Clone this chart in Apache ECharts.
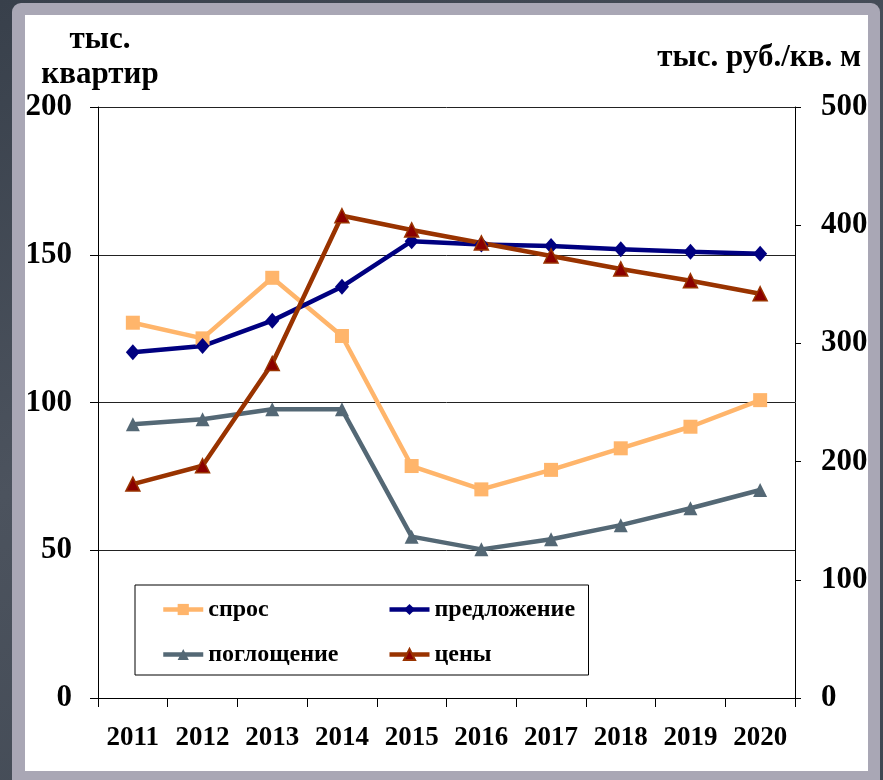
<!DOCTYPE html>
<html>
<head>
<meta charset="utf-8">
<script src="https://cdn.jsdelivr.net/npm/echarts@6/dist/echarts.min.js"></script>
<style>
html,body{margin:0;padding:0;width:883px;height:780px;overflow:hidden;background:linear-gradient(160deg,#38404b 0%,#4c535e 45%,#3f4752 100%);}
#frame{position:absolute;left:12px;top:3px;width:868px;height:790px;background:#a9a7b5;border-radius:9px;}
#inner{position:absolute;left:25px;top:15px;width:843px;height:756px;background:#ffffff;}
#chart{position:absolute;left:0;top:0;width:883px;height:780px;}
</style>
</head>
<body>
<div id="frame"></div>
<div id="inner"></div>
<div id="chart"></div>
<script>
var years = ['2011','2012','2013','2014','2015','2016','2017','2018','2019','2020'];
var demand = [127.0, 121.7, 142.2, 122.5, 78.5, 70.6, 77.2, 84.5, 91.8, 100.8];
var supply = [117.0, 119.1, 127.7, 139.2, 154.6, 153.5, 153.0, 151.9, 151.0, 150.3];
var absorption = [92.6, 94.3, 97.7, 97.7, 54.6, 50.3, 53.7, 58.5, 64.2, 70.4];
var prices = [181, 196.5, 283, 408, 396, 385, 374, 363, 353, 342];
var leftTitle = 'тыс.\nквартир';
var rightTitle = 'тыс. руб./кв. м';

var FONT = '"Liberation Serif", "Times New Roman", serif';
var chart = echarts.init(document.getElementById('chart'));
var legLine = {width: 4.5};
chart.setOption({
  backgroundColor: 'transparent',
  animation: false,
  textStyle: {fontFamily: FONT},
  title: [
    {text: leftTitle, left: 95, top: 17, textAlign: 'center',
     textStyle: {fontFamily: FONT, fontWeight: 'bold', fontSize: 31, lineHeight: 35, color: '#000', align: 'center'}},
    {text: rightTitle, right: 17, top: 37,
     textStyle: {fontFamily: FONT, fontWeight: 'bold', fontSize: 31, color: '#000'}}
  ],
  grid: {left: 98, top: 107, right: 88, bottom: 82, containLabel: false},
  legend: {
    left: 135, top: 585, width: 425,
    padding: [4, 4, 0, 26],
    itemGap: 4,
    itemWidth: 40, itemHeight: 14,
    borderColor: '#000', borderWidth: 1, backgroundColor: '#fff',
    lineStyle: legLine,
    textStyle: {fontFamily: FONT, fontWeight: 'bold', fontSize: 24, color: '#000', height: 41, lineHeight: 41},
    data: [
      {name: 'спрос', lineStyle: legLine, textStyle: {width: 175}},
      {name: 'предложение', lineStyle: legLine, textStyle: {width: 150}},
      {name: 'поглощение', lineStyle: legLine, textStyle: {width: 175}},
      {name: 'цены', lineStyle: legLine, textStyle: {width: 150}}
    ]
  },
  xAxis: {
    type: 'category', data: years, boundaryGap: true,
    axisLine: {lineStyle: {color: '#000', width: 1}},
    axisTick: {show: true, length: 9, lineStyle: {color: '#000'}},
    axisLabel: {interval: 0, fontFamily: FONT, fontWeight: 'bold', fontSize: 27, color: '#000', margin: 27}
  },
  yAxis: [
    {type: 'value', min: 0, max: 200, interval: 50, position: 'left',
     axisLine: {show: true, lineStyle: {color: '#000', width: 1}},
     axisTick: {show: true, length: 8, lineStyle: {color: '#000'}},
     splitLine: {show: true, lineStyle: {color: '#222', width: 1}},
     axisLabel: {fontFamily: FONT, fontWeight: 'bold', fontSize: 31, color: '#000', margin: 26}},
    {type: 'value', min: 0, max: 500, interval: 100, position: 'right',
     axisLine: {show: true, lineStyle: {color: '#000', width: 1}},
     axisTick: {show: true, length: 6, lineStyle: {color: '#000'}},
     splitLine: {show: false},
     axisLabel: {fontFamily: FONT, fontWeight: 'bold', fontSize: 31, color: '#000', margin: 26}}
  ],
  series: [
    {name: 'спрос', type: 'line', data: demand, yAxisIndex: 0,
     symbol: 'rect', symbolSize: 14,
     lineStyle: {color: '#FFB56B', width: 4.5},
     itemStyle: {color: '#FFB56B'}},
    {name: 'предложение', type: 'line', data: supply, yAxisIndex: 0,
     symbol: 'diamond', symbolSize: [14, 16],
     lineStyle: {color: '#000080', width: 4.5},
     itemStyle: {color: '#000080'}},
    {name: 'поглощение', type: 'line', data: absorption, yAxisIndex: 0,
     symbol: 'triangle', symbolSize: 14,
     lineStyle: {color: '#546875', width: 4.5},
     itemStyle: {color: '#546875'}},
    {name: 'цены', type: 'line', data: prices, yAxisIndex: 1,
     symbol: 'triangle', symbolSize: 14,
     lineStyle: {color: '#993300', width: 4.5},
     itemStyle: {color: '#8B0000', borderColor: '#993300', borderWidth: 1.5}}
  ]
});
</script>
</body>
</html>
